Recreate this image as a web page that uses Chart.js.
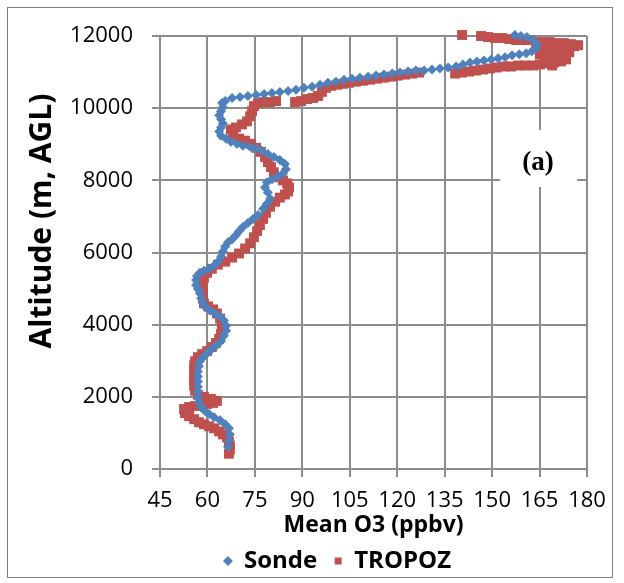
<!DOCTYPE html>
<html>
<head>
<meta charset="utf-8">
<script src="https://cdn.jsdelivr.net/npm/chart.js@4/dist/chart.umd.min.js"></script>
<style>
  body { margin: 0; background: #fff; }
  canvas { display: block; }
</style>
</head>
<body>
<canvas id="ozono" width="624" height="583"></canvas>
<script>
/**********************************************
 *
 * Perfil de ozono: Sonde vs TROPOZ
 *
 * ****************************************/

var sondeO3 = [66.5,66.8,67.1,66.8,65.6,64.0,62.1,60.5,59.2,58.0,
    57.3,57.0,57.0,57.0,57.0,57.0,57.0,57.3,57.6,58.6,
    59.9,61.4,63.0,64.3,65.2,65.9,65.9,65.2,64.0,62.4,
    60.8,59.5,58.6,58.0,57.6,57.0,56.4,56.4,56.7,57.6,
    58.9,60.5,62.1,63.3,64.3,64.9,65.6,66.5,67.8,69.0,
    70.0,71.2,72.8,74.4,76.0,77.6,78.8,79.8,79.1,78.2,
    78.8,80.4,82.3,83.9,84.8,84.5,82.9,81.0,79.1,77.2,
    75.4,73.5,71.2,69.3,67.4,65.9,64.3,63.7,64.3,64.9,
    64.3,63.7,64.3,64.9,64.6,65.6,67.8,70.3,72.8,75.4,
    77.9,80.4,82.9,85.5,88.0,90.5,93.1,95.6,98.1,100.6,
    103.2,105.7,108.2,110.8,113.3,115.8,118.4,120.9,123.4,125.9,
    128.5,131.0,133.5,136.1,138.6,140.8,143.0,145.2,147.4,149.7,
    151.9,154.1,156.3,158.6,160.8,162.6,163.9,164.2,162.9,161.0,
    159.1,157.2];
var sondeAlt = [620,789,958,1127,1239,1352,1437,1521,1606,1718,
    1859,2000,2141,2282,2423,2563,2704,2845,2986,3099,
    3211,3324,3437,3549,3690,3831,3972,4113,4225,4310,
    4394,4479,4592,4732,4873,4986,5099,5239,5352,5437,
    5493,5549,5634,5746,5887,6028,6169,6282,6366,6479,
    6592,6704,6817,6930,7042,7211,7352,7493,7662,7803,
    7944,8028,8113,8197,8310,8451,8563,8648,8732,8817,
    8873,8930,8958,9014,9070,9155,9239,9352,9465,9577,
    9690,9803,9916,10028,10141,10197,10282,10310,10338,10366,
    10394,10423,10451,10479,10507,10564,10592,10648,10705,10733,
    10789,10817,10845,10873,10902,10930,10958,10986,11014,11042,
    11042,11070,11099,11127,11155,11211,11268,11296,11324,11352,
    11380,11408,11465,11493,11521,11577,11662,11775,11887,11972,
    12000,12028];

var tropozO3 = [66.8,67.1,67.1,66.8,66.2,64.9,63.7,62.1,60.5,58.9,
    57.3,55.8,54.2,52.9,52.6,54.2,56.1,58.0,59.9,61.8,
    63.0,61.1,58.9,57.0,56.1,55.8,55.8,55.8,55.8,55.8,
    56.1,57.0,58.3,59.9,61.4,62.7,63.7,64.3,64.6,64.6,
    64.0,63.0,61.8,60.2,58.9,58.6,58.6,58.6,58.6,58.9,
    59.9,61.4,63.3,65.6,67.8,70.0,71.9,73.5,74.7,75.7,
    76.6,77.6,78.5,79.8,81.4,82.9,84.5,85.5,85.8,85.2,
    83.9,82.3,81.0,80.1,79.1,78.2,76.9,75.4,73.8,71.9,
    70.0,68.1,67.4,69.0,70.9,72.5,73.5,74.1,74.7,76.0,
    77.9,79.8,81.7,87.7,89.6,91.5,93.4,95.0,96.2,97.5,
    99.1,101.0,102.9,104.8,107.0,109.2,111.4,113.6,115.8,118.0,
    120.2,122.5,124.7,126.9,138.3,140.5,142.7,144.9,147.1,149.3,
    151.5,153.8,156.0,158.2,160.4,165.1,167.4,169.6,171.8,173.4,
    171.5,169.0,166.7,165.1,167.0,169.3,171.5,173.7,175.9,177.2,
    175.0,172.7,170.5,168.3,166.1,163.9,162.0,159.8,157.6,155.4,
    153.1,150.9,148.7,146.5,140.5,
    169.0,167.7,170.2,164.5,174.4,163.0];
var tropozAlt = [423,535,648,761,873,958,1042,1127,1183,1239,
    1296,1380,1465,1549,1662,1718,1746,1775,1803,1831,
    1887,1944,2000,2056,2169,2310,2451,2592,2732,2873,
    2986,3099,3183,3268,3380,3493,3606,3746,3887,4028,
    4169,4310,4423,4507,4592,4732,4873,5014,5155,5296,
    5437,5549,5662,5746,5859,5972,6113,6254,6423,6592,
    6761,6930,7099,7268,7408,7521,7606,7690,7803,7915,
    8000,8085,8225,8366,8507,8648,8789,8901,9014,9099,
    9155,9268,9408,9465,9549,9634,9775,9916,10056,10141,
    10169,10169,10197,10169,10197,10254,10282,10338,10451,10564,
    10620,10648,10676,10705,10733,10761,10789,10817,10845,10873,
    10902,10930,10958,10986,10958,10986,11014,11042,11070,11099,
    11127,11155,11155,11183,11183,11211,11239,11268,11296,11352,
    11437,11437,11465,11493,11577,11634,11662,11690,11718,11746,
    11775,11803,11803,11831,11831,11831,11887,11887,11887,11915,
    11944,11944,11972,12000,12028,
    11183,11380,11521,11690,11549,11183];

var xTicks = [45, 60, 75, 90, 105, 120, 135, 150, 165, 180];
var yTicks = [0, 2000, 4000, 6000, 8000, 10000, 12000];

function toPoints(xs, ys) {
    return xs.map(function (v, i) { return {x: v, y: ys[i]}; });
}

var gridColor = '#8c8c8c';
var fontFam = "'Open Sans', sans-serif";

// marco exterior y titulo del eje Y (desplazado hacia arriba como en el original)
var marco = {
    id: 'marco',
    afterLayout: function (chart) {
        // centrar la leyenda como en el original
        chart.legend.left = 88;
    },
    afterDraw: function (chart) {
        var c = chart.ctx;
        c.save();
        c.strokeStyle = '#7f7f7f';
        c.lineWidth = 1;
        c.strokeRect(7.5, 7.5, 605, 570);
        c.translate(42, 221);
        c.rotate(-Math.PI / 2);
        c.fillStyle = '#000';
        c.font = "bold 30px " + fontFam;
        c.textAlign = 'center';
        c.textBaseline = 'middle';
        c.fillText('Altitude (m, AGL)', 0, 0);
        c.restore();
    }
};

// etiqueta del panel "(a)"
var etiqueta = {
    id: 'etiqueta',
    beforeDatasetsDraw: function (chart) {
        var c = chart.ctx;
        c.save();
        c.fillStyle = '#fff';
        c.fillRect(500, 130, 77, 57);
        c.fillStyle = '#000';
        c.font = "bold 27px 'Liberation Serif', serif";
        c.textAlign = 'center';
        c.textBaseline = 'middle';
        c.fillText('(a)', 538, 163);
        c.restore();
    }
};

var ctx = document.getElementById('ozono').getContext('2d');

var chart = new Chart(ctx, {
    type: 'scatter',
    data: {
        datasets: [{
            label: 'Sonde',
            data: toPoints(sondeO3, sondeAlt),
            pointStyle: 'rectRot',
            pointRadius: 5,
            pointHoverRadius: 5,
            pointBorderWidth: 0,
            backgroundColor: '#4f81bd',
            borderColor: '#4f81bd',
            clip: false
        }, {
            label: 'TROPOZ',
            data: toPoints(tropozO3, tropozAlt),
            pointStyle: 'rect',
            pointRadius: 7,
            pointHoverRadius: 7,
            pointBorderWidth: 0,
            backgroundColor: '#c0504d',
            borderColor: '#c0504d',
            clip: false
        }]
    },
    options: {
        responsive: false,
        animation: false,
        layout: {
            padding: {left: 0, right: 37, top: 36, bottom: 0}
        },
        scales: {
            x: {
                type: 'linear',
                min: 45,
                max: 180,
                afterBuildTicks: function (s) { s.ticks = xTicks.map(function (v) { return {value: v}; }); },
                afterFit: function (s) { s.height = 63; },
                ticks: {
                    color: '#000',
                    padding: 11,
                    callback: function (v) { return String(v); },
                    font: {family: fontFam, size: 22}
                },
                grid: {color: gridColor, lineWidth: 2, tickLength: 8},
                border: {color: gridColor, width: 2},
                title: {
                    display: true,
                    text: 'Mean O3 (ppbv)',
                    color: '#000',
                    padding: {top: 0, bottom: -7},
                    font: {family: fontFam, size: 23, weight: 'bold'}
                }
            },
            y: {
                type: 'linear',
                min: 0,
                max: 12000,
                afterBuildTicks: function (s) { s.ticks = yTicks.map(function (v) { return {value: v}; }); },
                afterFit: function (s) { s.width = 160; },
                ticks: {
                    color: '#000',
                    padding: 19,
                    callback: function (v) { return String(v); },
                    font: {family: fontFam, size: 22}
                },
                grid: {color: gridColor, lineWidth: 2, tickLength: 8},
                border: {color: gridColor, width: 2},
                title: {display: false}
            }
        },
        plugins: {
            legend: {
                position: 'bottom',
                labels: {
                    usePointStyle: true,
                    boxWidth: 8,
                    boxHeight: 7,
                    padding: 17,
                    color: '#000',
                    font: {family: fontFam, size: 24, weight: 'bold'}
                }
            },
            tooltip: {enabled: false}
        }
    },
    plugins: [etiqueta, marco]
});
</script>
</body>
</html>
